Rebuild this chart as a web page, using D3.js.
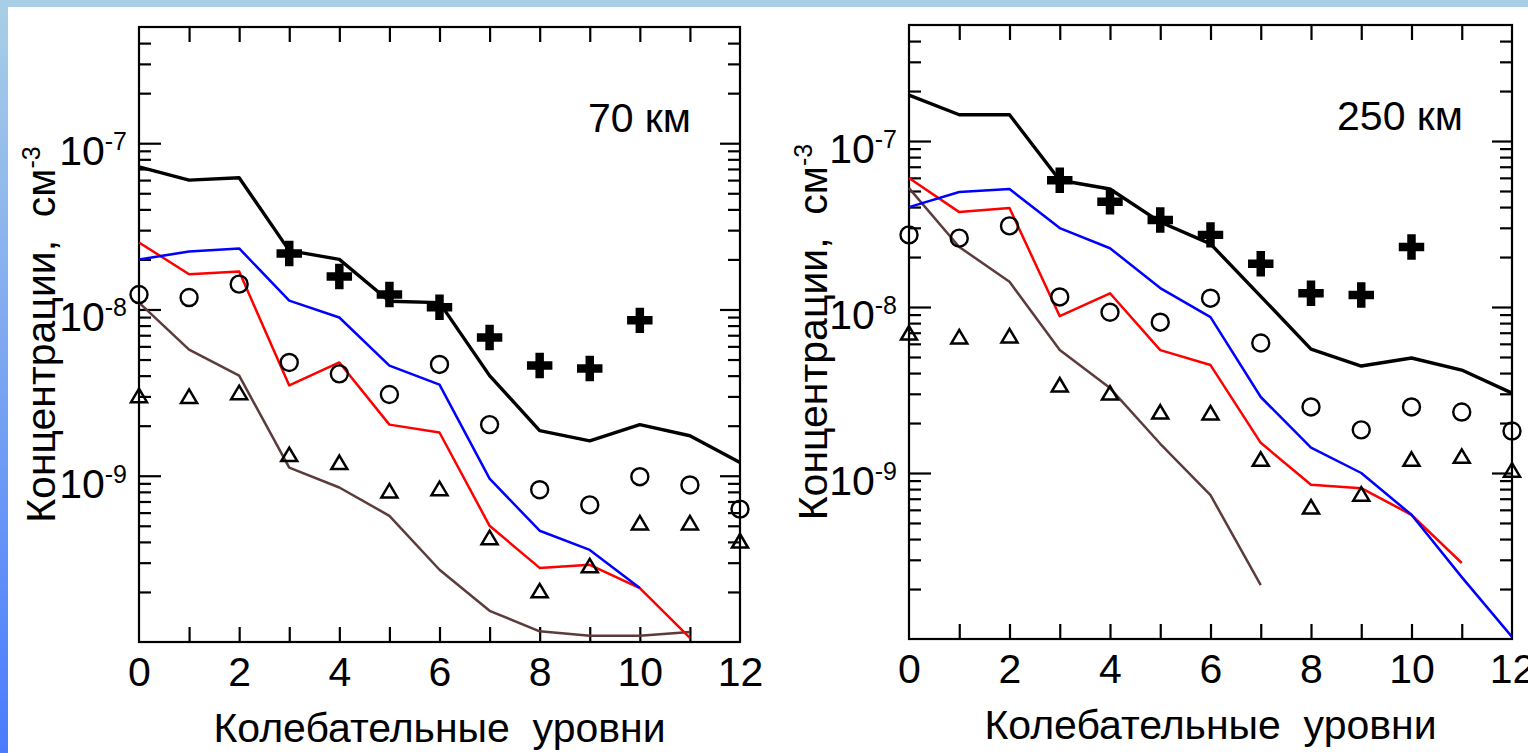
<!DOCTYPE html>
<html lang="ru">
<head>
<meta charset="utf-8" />
<title>Концентрации по колебательным уровням</title>
<script src="https://cdnjs.cloudflare.com/ajax/libs/d3/7.8.5/d3.min.js"></script>
<style>
  body { margin: 0; background: #fff; }
  svg text { font-family: "Liberation Sans", Arial, sans-serif; fill: #000; }
  .frame { fill: none; stroke: #000; stroke-width: 2.2; }
  .tick line { stroke: #000; stroke-width: 2.2; }
  .domain { display: none; }
</style>
</head>
<body>
<svg id="chart" width="1528" height="753"></svg>
<script>
// levels and ticks
const levels = [0, 1, 2, 3, 4, 5, 6, 7, 8, 9, 10, 11, 12];
const xTicks = [0, 2, 4, 6, 8, 10, 12];
const yMajor = [1e-7, 1e-8, 1e-9];
const yMajorExp = ["-7", "-8", "-9"];
const titles = ["70 км", "250 км"];

// 70 km
const black70 = [7.2e-8, 6.0e-8, 6.2e-8, 2.26e-8, 2.0e-8, 1.12e-8, 1.1e-8, 4.0e-9, 1.87e-9, 1.62e-9, 2.03e-9, 1.74e-9, 1.2e-9];
const blue70 = [2.0e-8, 2.23e-8, 2.33e-8, 1.13e-8, 8.95e-9, 4.6e-9, 3.53e-9, 9.6e-10, 4.67e-10, 3.58e-10, 2.11e-10];
const red70 = [2.53e-8, 1.63e-8, 1.69e-8, 3.49e-9, 4.8e-9, 2.03e-9, 1.82e-9, 5.0e-10, 2.79e-10, 2.91e-10, 2.11e-10, 1.06e-10];
const brown70 = [1.1e-8, 5.74e-9, 4.0e-9, 1.12e-9, 8.5e-10, 5.74e-10, 2.72e-10, 1.54e-10, 1.16e-10, 1.09e-10, 1.09e-10, 1.15e-10];
const cross70 = [null, null, null, 2.17e-8, 1.58e-8, 1.23e-8, 1.03e-8, 6.78e-9, 4.6e-9, 4.41e-9, 8.6e-9];
const circle70 = [1.23e-8, 1.18e-8, 1.42e-8, 4.8e-9, 4.1e-9, 3.08e-9, 4.67e-9, 2.03e-9, 8.24e-10, 6.68e-10, 9.87e-10, 8.8e-10, 6.3e-10];
const tri70 = [3.03e-9, 3.0e-9, 3.16e-9, 1.34e-9, 1.2e-9, 8.1e-10, 8.36e-10, 4.24e-10, 2.03e-10, 2.87e-10, 5.2e-10, 5.2e-10, 4.05e-10];

// 250 km
const black250 = [1.89e-7, 1.44e-7, 1.44e-7, 5.8e-8, 5.14e-8, 3.25e-8, 2.4e-8, 1.16e-8, 5.58e-9, 4.41e-9, 4.93e-9, 4.17e-9, 3.03e-9];
const blue250 = [4.0e-8, 4.93e-8, 5.14e-8, 2.99e-8, 2.26e-8, 1.3e-8, 8.7e-9, 2.87e-9, 1.42e-9, 1.0e-9, 5.6e-10, 2.36e-10, 1.03e-10];
const red250 = [5.98e-8, 3.73e-8, 3.95e-8, 8.8e-9, 1.21e-8, 5.5e-9, 4.47e-9, 1.52e-9, 8.5e-10, 8.1e-10, 5.6e-10, 2.87e-10];
const brown250 = [5.2e-8, 2.3e-8, 1.42e-8, 5.5e-9, 3.25e-9, 1.5e-9, 7.36e-10, 2.11e-10];
const cross250 = [null, null, null, 5.8e-8, 4.3e-8, 3.34e-8, 2.72e-8, 1.82e-8, 1.21e-8, 1.18e-8, 2.3e-8];
const circle250 = [2.72e-8, 2.6e-8, 3.08e-8, 1.15e-8, 9.3e-9, 8.1e-9, 1.13e-8, 6.07e-9, 2.5e-9, 1.82e-9, 2.5e-9, 2.33e-9, 1.79e-9];
const tri250 = [6.97e-9, 6.6e-9, 6.7e-9, 3.39e-9, 3.03e-9, 2.33e-9, 2.3e-9, 1.21e-9, 6.24e-10, 7.46e-10, 1.21e-9, 1.26e-9, 1.04e-9];

const svg = d3.select("#chart");

// background: blue strips on top and left
const grad = svg.append("defs").append("linearGradient")
  .attr("id", "side").attr("x1", 0).attr("y1", 0).attr("x2", 0).attr("y2", 1);
grad.append("stop").attr("offset", "0%").attr("stop-color", "#a9cfe6");
grad.append("stop").attr("offset", "100%").attr("stop-color", "#4a7bff");
svg.append("rect").attr("width", 1528).attr("height", 753).attr("fill", "#fff");
svg.append("rect").attr("width", 1528).attr("height", 7).attr("fill", "#a9cfe6");
svg.append("rect").attr("width", 8).attr("height", 753).attr("fill", "url(#side)");

// minor ticks 2..9 per decade
let yMinor = [];
[-10, -9, -8, -7].forEach((d) => {
  [2, 3, 4, 5, 6, 7, 8, 9].forEach((k) => {
    const v = k * Math.pow(10, d);
    if (v < 4.99e-7) yMinor.push(v);
  });
});

const panels = [
  { box: [139, 740, 27, 642], title: titles[0], black: black70, blue: blue70, red: red70, brown: brown70,
    cross: cross70, circle: circle70, tri: tri70, ylabX: 55 },
  { box: [909, 1512, 25, 639], title: titles[1], black: black250, blue: blue250, red: red250, brown: brown250,
    cross: cross250, circle: circle250, tri: tri250, ylabX: 827 },
];

panels.forEach((p) => {
  const [x0, x1, y0, y1] = p.box;
  const x = d3.scaleLinear().domain([0, 12]).range([x0, x1]);
  const y = d3.scaleLog().domain([1e-10, 5e-7]).range([y1, y0]);
  const g = svg.append("g");

  // ticks, all pointing inward
  g.append("g").attr("transform", `translate(${x0},0)`)
    .call(d3.axisRight(y).tickValues(yMajor).tickSize(22).tickFormat(""));
  g.append("g").attr("transform", `translate(${x0},0)`)
    .call(d3.axisRight(y).tickValues(yMinor).tickSize(12).tickFormat(""));
  g.append("g").attr("transform", `translate(${x1},0)`)
    .call(d3.axisLeft(y).tickValues(yMajor).tickSize(20).tickFormat(""));
  g.append("g").attr("transform", `translate(${x1},0)`)
    .call(d3.axisLeft(y).tickValues(yMinor).tickSize(12).tickFormat(""));
  g.append("g").attr("transform", `translate(0,${y0})`)
    .call(d3.axisBottom(x).tickValues(levels.slice(1, 12)).tickSize(15).tickFormat(""));
  g.append("g").attr("transform", `translate(0,${y1})`)
    .call(d3.axisTop(x).tickValues(levels.slice(1, 12)).tickSize(15).tickFormat(""));

  // x labels
  g.append("g").attr("transform", `translate(0,${y1})`)
    .call(d3.axisBottom(x).tickValues(xTicks).tickSize(0).tickPadding(15))
    .call((a) => a.selectAll("text").attr("font-size", 41).attr("fill", "#000")
      .style("font-family", '"Liberation Sans", Arial, sans-serif'));

  // y labels with superscript
  yMajor.forEach((v, i) => {
    const t = g.append("text").attr("x", x0 - 12).attr("y", y(v) + 22)
      .attr("text-anchor", "end").attr("font-size", 41);
    t.append("tspan").text("10");
    t.append("tspan").attr("font-size", 25).attr("dy", -15).text(yMajorExp[i]);
  });

  g.append("rect").attr("class", "frame")
    .attr("x", x0).attr("y", y0).attr("width", x1 - x0).attr("height", y1 - y0);

  const line = d3.line().x((d, i) => x(levels[i])).y((d) => y(d));
  const series = [
    { data: p.brown, color: "#5c3b3b", w: 2.5 },
    { data: p.red, color: "#ff0000", w: 2.5 },
    { data: p.blue, color: "#0000ff", w: 2.5 },
    { data: p.black, color: "#000000", w: 3.4 },
  ];
  series.forEach((s) => {
    g.append("path").attr("d", line(s.data))
      .attr("fill", "none").attr("stroke", s.color).attr("stroke-width", s.w)
      .attr("stroke-linejoin", "round");
  });

  // markers
  const pts = (arr) => arr.map((v, i) => ({ i: levels[i], v })).filter((d) => d.v !== null);
  g.selectAll(".circ").data(pts(p.circle)).join("circle")
    .attr("cx", (d) => x(d.i)).attr("cy", (d) => y(d.v)).attr("r", 8.5)
    .attr("fill", "none").attr("stroke", "#000").attr("stroke-width", 2.4);
  g.selectAll(".tri").data(pts(p.tri)).join("path")
    .attr("transform", (d) => `translate(${x(d.i)},${y(d.v)})`)
    .attr("d", "M0,-7L8,6.5L-8,6.5Z")
    .attr("fill", "none").attr("stroke", "#000").attr("stroke-width", 2.5)
    .attr("stroke-linejoin", "miter");
  g.selectAll(".cross").data(pts(p.cross)).join("path")
    .attr("transform", (d) => `translate(${x(d.i)},${y(d.v)})`)
    .attr("d", d3.symbol(d3.symbolCross, 360))
    .attr("fill", "#000");

  // panel title
  g.append("text").attr("x", x1 - 49).attr("y", y0 + 105)
    .attr("text-anchor", "end").attr("font-size", 41).text(p.title);

  // axis titles
  g.append("text").attr("x", (x0 + x1) / 2).attr("y", y1 + 100)
    .attr("text-anchor", "middle").attr("font-size", 41)
    .attr("xml:space", "preserve").text("Колебательные  уровни");
  const yl = g.append("text")
    .attr("transform", `translate(${p.ylabX},${(y0 + y1) / 2}) rotate(-90)`)
    .attr("text-anchor", "middle").attr("font-size", 41).attr("xml:space", "preserve");
  yl.append("tspan").text("Концентрации,  см");
  yl.append("tspan").attr("font-size", 25).attr("dy", -15).text("-3");
});
</script>
</body>
</html>
